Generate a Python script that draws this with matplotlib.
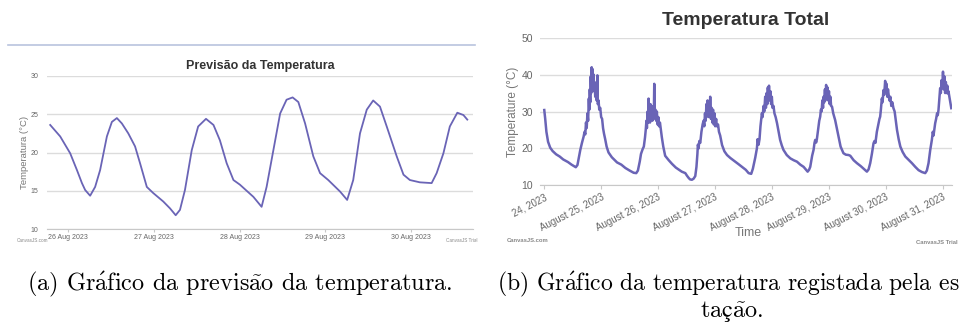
import matplotlib
matplotlib.use('Agg')
import matplotlib.pyplot as plt
from matplotlib.lines import Line2D

plt.rcParams['mathtext.fontset'] = 'cm'

# --- forecast data (hours since 26 Aug 2023 00:00, degC)
prev_hours = [-5.1, -2.3, 0.5, 2.4, 3.8, 4.7, 6.1, 7.5, 8.9, 10.8, 12.2, 13.6, 15.0,
              16.8, 18.7, 20.1, 22.0, 23.8, 26.6, 28.5, 30.1, 31.3, 32.7, 34.6, 36.4,
              38.6, 40.7, 42.5, 44.4, 46.3, 48.1, 51.9, 54.2, 55.6, 57.5, 59.4, 61.2,
              62.9, 64.5, 66.4, 68.7, 70.6, 72.9, 76.2, 78.2, 79.9, 81.8, 83.7, 85.5,
              87.4, 89.3, 92.1, 94.0, 95.8, 98.6, 101.9, 103.3, 105.2, 107.0, 109.1,
              110.8, 111.9]
prev_temp = [23.6, 22.1, 19.9, 17.7, 16.0, 15.1, 14.35, 15.5, 17.7, 22.1, 24.0, 24.5, 23.8,
             22.5, 20.8, 18.6, 15.5, 14.7, 13.6, 12.7, 11.8, 12.5, 15.1, 20.3, 23.4,
             24.4, 23.6, 21.6, 18.6, 16.4, 15.8, 14.2, 12.9, 15.5, 20.3, 25.1, 26.9,
             27.2, 26.6, 23.8, 19.5, 17.3, 16.4, 14.9, 13.8, 16.4, 22.5, 25.6, 26.8,
             26.0, 23.4, 19.5, 17.1, 16.4, 16.1, 16.0, 17.3, 19.9, 23.4, 25.2,
             24.9, 24.3]
prev_ticks = [0, 24, 48, 72, 96]
prev_labels = ['26 Aug 2023', '27 Aug 2023', '28 Aug 2023', '29 Aug 2023', '30 Aug 2023']

# --- station data (hours since 24 Aug 2023 00:00, degC)
tot_hours = [0.0, 0.4, 0.9, 1.6, 2.5, 3.5, 5.0, 6.5, 8.0, 10.0, 11.5, 12.5, 13.3, 14.0,
             14.6, 15.2, 15.9, 16.6, 17.0, 17.3, 17.6, 17.9, 18.2, 18.5, 18.8, 19.0,
             19.2, 19.4, 19.6, 19.8, 20.0, 20.2, 20.4, 20.6, 20.8, 21.0, 21.2, 21.5,
             21.8, 22.1, 22.4, 22.6, 22.9, 23.2, 23.6, 24.0, 24.4, 24.8, 25.2, 25.7,
             26.3, 27.1, 28.5, 30.7, 32.5, 34.2, 36.0, 37.7, 38.8, 39.5,
             40.3, 40.8, 41.5, 42.0, 42.5, 42.8, 43.1, 43.3, 43.6, 43.8, 44.0, 44.2,
             44.4, 44.6, 44.8, 45.0, 45.3, 45.6, 45.9, 46.2, 46.4, 46.6, 46.9, 47.2,
             47.5, 47.8, 48.1, 48.4, 48.8, 49.2, 49.6, 50.2, 51.0, 52.5, 53.9, 55.5,
             56.6, 58.0, 58.8, 59.5, 60.2, 60.9, 61.5, 62.3, 63.0, 63.7,
             64.2, 64.6, 64.8, 65.1, 65.4, 65.8, 66.3, 66.8, 67.2, 67.5, 67.8, 68.1,
             68.4, 68.6, 68.9, 69.2, 69.5, 69.8, 70.0, 70.3, 70.6, 70.9, 71.2, 71.5,
             71.8, 72.1, 72.5, 72.8, 73.3, 73.7, 74.2, 75.0, 76.0, 77.1, 78.5, 80.6,
             82.0, 83.4, 85.0, 86.2, 87.3,
             88.0, 89.0, 89.7, 90.0, 90.4, 90.8, 91.2, 91.8, 92.1, 92.5, 92.8, 93.2,
             93.5, 93.8, 94.1, 94.3, 94.6, 94.8, 95.1, 95.4, 95.7, 96.0, 96.3, 96.7,
             97.1, 97.6, 98.2, 99.0, 99.5, 100.2, 100.9, 102.3, 103.8, 105.2, 106.6,
             108.0, 109.4, 110.3, 111.1, 111.7,
             112.2, 113.0, 113.6, 114.0, 114.3, 114.7, 115.0, 115.6, 116.0, 116.4,
             116.7, 117.0, 117.3, 117.6, 117.8, 118.1, 118.4, 118.6, 118.9, 119.2,
             119.5, 119.8, 120.1, 120.4, 120.7, 121.0, 121.4, 121.9, 122.7, 123.4,
             124.1, 125.0, 126.2, 127.2, 128.4, 129.1, 130.5, 131.9, 133.5, 135.4, 136.1,
             136.8, 137.5, 138.2, 138.9, 139.3, 139.7, 140.3, 141.0, 141.4, 141.7,
             142.0, 142.4, 142.7, 143.1, 143.4, 143.8, 144.1, 144.4, 144.7, 145.0,
             145.2, 145.6, 146.0, 146.4, 146.8, 147.3, 147.8, 148.3, 148.8, 149.5,
             150.2, 151.2, 152.3, 153.7, 155.1, 156.5, 157.9, 159.3, 160.7,
             161.4, 162.1, 162.8, 163.5, 163.9, 164.2, 164.5, 164.9, 165.3, 165.7,
             166.0, 166.3, 166.6, 167.0, 167.3, 167.6, 167.9, 168.2, 168.5, 168.8,
             169.1, 169.4, 169.7, 170.0, 170.3, 170.5, 170.9, 171.3, 171.7]
tot_temp = [30.4, 28.0, 24.5, 21.8, 20.2, 19.3, 18.4, 17.8, 17.0, 16.3, 15.6, 15.2, 14.9, 15.5,
            17.5, 19.6, 21.5, 23.2, 24.5, 23.8, 27.0, 25.5, 29.5, 27.5, 33.5, 30.5,
            36.0, 32.5, 39.5, 35.0, 42.0, 37.5, 41.5, 36.0, 40.0, 35.5, 38.0, 34.0,
            36.5, 33.0, 39.8, 32.0, 33.0, 30.5, 31.0, 28.5, 28.0, 25.5, 24.0, 22.5,
            20.5, 18.9, 17.6, 16.2, 15.6, 14.7, 14.0, 13.4, 13.3, 14.0,
            16.5, 18.5, 19.8, 20.5, 23.0, 25.0, 27.5, 25.5, 30.0, 27.0, 33.5, 28.5,
            31.0, 27.0, 32.0, 28.0, 31.5, 27.5, 30.5, 28.0, 37.5, 29.0, 30.5, 27.5,
            30.0, 26.5, 28.5, 26.0, 27.0, 25.0, 23.0, 20.5, 18.0, 16.8, 15.8, 14.8,
            14.3, 13.7, 13.5, 13.3, 12.6, 12.0, 11.6, 11.5, 11.8, 12.5,
            15.0, 18.5, 21.0, 20.0, 22.0, 21.5, 24.5, 26.5, 27.5, 26.0, 29.5, 27.5,
            32.0, 29.0, 33.0, 28.5, 32.5, 29.5, 34.0, 28.0, 31.0, 27.0, 30.5, 26.5,
            29.5, 26.0, 28.0, 26.0, 26.5, 24.5, 23.5, 20.9, 19.2, 18.2, 17.4, 16.4,
            15.7, 15.0, 14.2, 13.3, 13.1,
            14.5, 17.5, 20.0, 22.5, 21.0, 22.5, 26.0, 29.5, 28.5, 31.5, 30.0, 34.0,
            31.0, 35.0, 32.0, 36.5, 33.5, 37.0, 33.0, 35.5, 32.0, 34.0, 31.0, 31.5,
            29.5, 28.5, 26.8, 24.0, 22.3, 20.8, 19.6, 18.2, 17.3, 16.8, 16.4,
            15.6, 15.0, 14.3, 13.7, 14.2,
            15.0, 18.0, 19.6, 21.5, 22.3, 21.6, 22.5, 25.5, 27.5, 28.6,
            30.5, 30.0, 33.0, 31.0, 34.0, 32.5, 36.0, 33.0, 37.2, 34.0,
            36.5, 33.0, 35.5, 32.0, 34.0, 31.5, 31.3, 29.5, 27.7, 25.5,
            23.2, 20.5, 18.7, 18.3, 18.2, 18.0, 16.8, 16.0, 15.2, 14.1, 13.7,
            14.3, 16.0, 18.5, 21.4, 22.0, 21.5, 24.5, 26.8, 28.0, 28.6,
            30.5, 33.5, 32.5, 35.8, 34.5, 38.3, 35.5, 37.5, 34.0, 36.0,
            34.9, 33.0, 34.0, 31.5, 32.5, 30.9, 30.0, 27.5, 25.0, 22.5,
            20.5, 19.0, 17.8, 16.9, 16.0, 15.0, 14.1, 13.6, 13.3,
            14.0, 16.0, 19.5, 22.3, 24.5, 23.5, 25.0, 26.8, 28.0, 29.5,
            29.0, 30.4, 33.0, 36.3, 35.0, 38.5, 36.5, 40.8, 36.0, 39.5,
            35.0, 38.0, 35.0, 37.0, 34.9, 35.5, 34.0, 32.5, 30.9]
tot_ticks = [0, 24, 48, 72, 96, 120, 144, 168]
# first label is cut off in the screenshot
tot_labels = ['24, 2023', 'August 25, 2023', 'August 26, 2023', 'August 27, 2023',
              'August 28, 2023', 'August 29, 2023', 'August 30, 2023', 'August 31, 2023']

line_col = '#6a64b6'
grid_col = '#dcdcdc'
tick_col = '#666666'
sans = 'Liberation Sans'

fig = plt.figure(figsize=(9.6, 3.26), dpi=100)

# separator line above the left screenshot
fig.add_artist(Line2D([8 / 960, 475 / 960], [1 - 45 / 326, 1 - 45 / 326],
                      color='#b9c3de', lw=1.2))

# ---------------- (a) forecast
ax1 = fig.add_axes([47 / 960, 1 - 229 / 326, 426 / 960, 153 / 326])
ax1.plot(prev_hours, prev_temp, color=line_col, lw=1.3)
ax1.set_xlim(-6.0, 113.5)
ax1.set_ylim(10, 30)
ax1.set_yticks([10, 15, 20, 25, 30])
ax1.set_xticks(prev_ticks)
ax1.set_xticklabels(prev_labels)
ax1.grid(axis='y', color=grid_col, lw=1.0)
ax1.set_axisbelow(True)
for s in ['top', 'right', 'left']:
    ax1.spines[s].set_visible(False)
ax1.spines['bottom'].set_color('#c8c8c8')
ax1.tick_params(axis='y', length=0, pad=6, labelsize=5, labelcolor=tick_col)
ax1.tick_params(axis='x', length=2, color='#c8c8c8', pad=1.5, labelsize=5, labelcolor=tick_col)
for lab in ax1.get_xticklabels() + ax1.get_yticklabels():
    lab.set_fontfamily(sans)
ax1.set_ylabel('Temperatura (°C)', fontsize=6.8, color='#777777', family=sans, labelpad=1)
ax1.set_title('Previsão da Temperatura', fontsize=9, fontweight='bold', color='#333333',
              family=sans, pad=5)
fig.text(17 / 960, 1 - 240 / 326, 'CanvasJS.com', fontsize=3.3, color='#888888', family=sans,
         va='center')
fig.text(478 / 960, 1 - 241 / 326, 'CanvasJS Trial', fontsize=3.3, color='#888888', family=sans,
         va='center', ha='right')

# ---------------- (b) station
ax2 = fig.add_axes([540 / 960, 1 - 185.3 / 326, 412 / 960, 147.6 / 326])
ax2.plot(tot_hours, tot_temp, color=line_col, lw=1.8)
ax2.set_xlim(-1.8, 172.0)
ax2.set_ylim(10, 50)
ax2.set_yticks([10, 20, 30, 40, 50])
ax2.set_xticks(tot_ticks)
ax2.set_xticklabels(tot_labels, rotation=27, ha='right', rotation_mode='anchor')
ax2.grid(axis='y', color=grid_col, lw=1.0)
ax2.set_axisbelow(True)
for s in ['top', 'right', 'left']:
    ax2.spines[s].set_visible(False)
ax2.spines['bottom'].set_color('#c8c8c8')
ax2.tick_params(axis='y', length=0, pad=5, labelsize=7.5, labelcolor=tick_col)
ax2.tick_params(axis='x', length=3, color='#c8c8c8', pad=2, labelsize=7, labelcolor=tick_col)
for lab in ax2.get_xticklabels() + ax2.get_yticklabels():
    lab.set_fontfamily(sans)
ax2.set_ylabel('Temperature (°C)', fontsize=8.5, color='#777777', family=sans, labelpad=2)
ax2.set_xlabel('Time', fontsize=9, color='#777777', family=sans)
ax2.xaxis.set_label_coords(0.505, -0.285)
ax2.set_title('Temperatura Total', fontsize=14, fontweight='bold', color='#333333',
              family=sans, pad=9)
fig.text(507 / 960, 1 - 240 / 326, 'CanvasJS.com', fontsize=4.2, color='#888888', family=sans,
         va='center', fontweight='bold')
fig.text(958 / 960, 1 - 242 / 326, 'CanvasJS Trial', fontsize=4.2, color='#888888', family=sans,
         va='center', ha='right', fontweight='bold')

# ---------------- captions (accents through mathtext so they stay in Computer Modern)
cap_font = ['cmr10', 'DejaVu Serif']
cap_size = 17.5
fig.text(239.5 / 960, 1 - 284 / 326,
         r'(a) Gr$\mathrm{\acute{a}}$fico da previs$\mathrm{\tilde{a}}$o da temperatura.',
         fontsize=cap_size, family=cap_font, va='center', ha='center')
fig.text(497 / 960, 1 - 284 / 326,
         r'(b) Gr$\mathrm{\acute{a}}$fico da temperatura registada pela es',
         fontsize=cap_size - 0.5, family=cap_font, va='center', ha='left')
fig.text(732 / 960, 1 - 311 / 326, r'ta$\mathrm{ç\tilde{a}}$o.', fontsize=cap_size,
         family=cap_font, va='center', ha='center')

fig.savefig('out.png', dpi=100)
